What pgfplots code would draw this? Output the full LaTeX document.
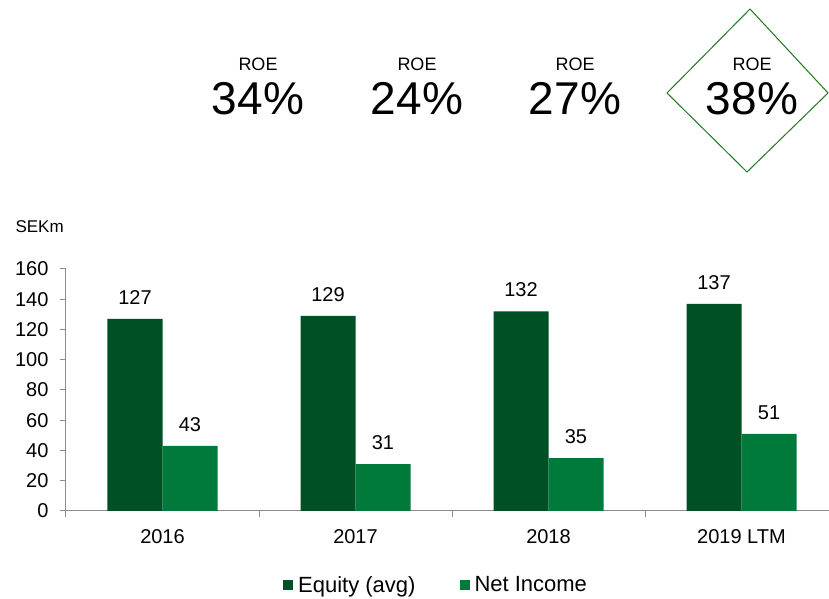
\documentclass[border=0pt]{standalone}
\usepackage{fontspec}
\setmainfont{Liberation Sans}
\usepackage{pgfplots}
\pgfplotsset{compat=1.18}
\definecolor{darkg}{RGB}{0,80,38}
\definecolor{lightg}{RGB}{0,122,58}
\definecolor{axgray}{RGB}{140,140,140}
\definecolor{diag}{RGB}{30,120,30}
\pgfplotsset{mylegend/.style={legend image code/.code={\fill[##1] (0pt,-5pt) rectangle (10pt,5pt);}}}
\begin{document}
\begin{tikzpicture}[x=1pt,y=1pt]
\useasboundingbox (0,0) rectangle (829,599);
\begin{axis}[
  at={(66pt,88pt)}, anchor=south west,
  scale only axis, width=763pt, height=242pt,
  xmin=-0.5, xmax=3.4534, ymin=0, ymax=160,
  axis lines*=left,
  axis line style={axgray, line width=1pt},
  ytick={0,20,...,160},
  xtick={-0.5,0.5,1.5,2.5}, xticklabels={},
  extra x ticks={0,1,2,3},
  extra x tick labels={2016,2017,2018,2019 LTM},
  extra x tick style={major tick length=0pt, xticklabel style={yshift=-15pt}},
  yticklabel style={xshift=-8pt},
  tick align=outside, major tick length=6pt,
  tick style={axgray, line width=1pt},
  xtick pos=bottom, ytick pos=left,
  tick label style={font=\fontsize{20}{24}\selectfont},
  /pgf/number format/assume math mode=true,
  ybar=0pt, bar width=55pt,
  nodes near coords,
  nodes near coords style={font=\fontsize{20}{24}\selectfont, yshift=11pt},
  legend style={at={(0.485,-0.306)}, anchor=center, draw=none, fill=none,
    font=\fontsize{22}{26}\selectfont, cells={anchor=west},
    /tikz/every even column/.append style={column sep=42pt},
    /tikz/every odd column/.append style={column sep=3pt}},
  legend columns=2,
  clip=false,
]
\addplot[fill=darkg, draw=none, mylegend] coordinates {(0,127) (1,129) (2,132) (3,137)};
\addplot[fill=lightg, draw=none, mylegend] coordinates {(0,43) (1,31) (2,35) (3,51)};
\legend{Equity (avg), Net Income}
\end{axis}
\node[anchor=base west, font=\fontsize{17}{19}\selectfont] at (12,366) {SEKm};
\foreach \xx/\vv in {258/34, 417/24, 575/27, 752/38} {
  \node[anchor=base, font=\fontsize{18}{20}\selectfont] at (\xx,528) {ROE};
  \node[anchor=base, font=\fontsize{46}{50}\selectfont] at (\xx,484) {\vv\%};
}
\draw[diag, line width=1pt] (750,590) -- (828,506) -- (747,427) -- (667,506) -- cycle;
\end{tikzpicture}
\end{document}
